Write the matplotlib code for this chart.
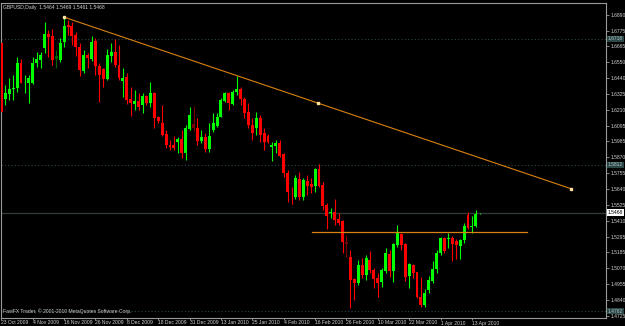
import matplotlib
matplotlib.use("Agg")
import matplotlib.pyplot as plt
import matplotlib.transforms as mtransforms

# GBPUSD daily candles, bar 0 = 23 Oct 2009, last bar = 15 Apr 2010
opens = [1.6689, 1.6284, 1.6322, 1.6358, 1.6363, 1.6543, 1.6399, 1.6403, 1.6403, 1.6543,
         1.6567, 1.6651, 1.6754, 1.6741, 1.6574, 1.6567, 1.6698, 1.6818, 1.6811, 1.6746,
         1.6662, 1.6487, 1.6603, 1.6572, 1.6705, 1.6523, 1.6500, 1.6430, 1.6595, 1.6626,
         1.6531, 1.6416, 1.6442, 1.6284, 1.6250, 1.6272, 1.6243, 1.6308, 1.6255, 1.6332,
         1.6155, 1.6116, 1.6032, 1.5955, 1.5955, 1.5979, 1.5996, 1.5896, 1.6068, 1.6106,
         1.6080, 1.5984, 1.6015, 1.5924, 1.6063, 1.6092, 1.6159, 1.6274, 1.6327, 1.6250,
         1.6334, 1.6358, 1.6284, 1.6195, 1.6099, 1.6078, 1.6149, 1.6041, 1.6020, 1.5940,
         1.5948, 1.5968, 1.5891, 1.5752, 1.5584, 1.5579, 1.5711, 1.5584, 1.5699, 1.5675,
         1.5661, 1.5783, 1.5668, 1.5524, 1.5469, 1.5476, 1.5421, 1.5409, 1.5260, 1.5152,
         1.4990, 1.4961, 1.5093, 1.5021, 1.5129, 1.5057, 1.4997, 1.4973, 1.5052, 1.5172,
         1.5050, 1.5236, 1.5315, 1.5244, 1.5014, 1.5093, 1.5045, 1.4865, 1.4805, 1.4913,
         1.4980, 1.5062, 1.5177, 1.5289, 1.5277, 1.5289, 1.5268, 1.5229, 1.5272, 1.5452,
         1.5366, 1.5373, 1.5464]
highs = [1.6703, 1.6387, 1.6435, 1.6459, 1.6590, 1.6572, 1.6459, 1.6459, 1.6590, 1.6626,
         1.6626, 1.6838, 1.6782, 1.6787, 1.6639, 1.6723, 1.6874, 1.6854, 1.6842, 1.6770,
         1.6687, 1.6639, 1.6615, 1.6739, 1.6723, 1.6543, 1.6507, 1.6644, 1.6691, 1.6715,
         1.6674, 1.6507, 1.6471, 1.6370, 1.6351, 1.6327, 1.6327, 1.6315, 1.6411, 1.6339,
         1.6164, 1.6243, 1.6063, 1.5991, 1.6020, 1.6015, 1.6063, 1.6099, 1.6231, 1.6236,
         1.6147, 1.6063, 1.6044, 1.6111, 1.6188, 1.6188, 1.6296, 1.6339, 1.6339, 1.6351,
         1.6452, 1.6375, 1.6303, 1.6255, 1.6149, 1.6193, 1.6171, 1.6078, 1.6035, 1.5979,
         1.5991, 1.5991, 1.5896, 1.5776, 1.5656, 1.5740, 1.5759, 1.5716, 1.5740, 1.5716,
         1.5792, 1.5819, 1.5692, 1.5536, 1.5500, 1.5565, 1.5464, 1.5416, 1.5308, 1.5200,
         1.4997, 1.5129, 1.5141, 1.5165, 1.5193, 1.5069, 1.5033, 1.5069, 1.5213, 1.5200,
         1.5253, 1.5380, 1.5325, 1.5253, 1.5105, 1.5100, 1.5045, 1.5009, 1.4918, 1.5014,
         1.5124, 1.5200, 1.5296, 1.5296, 1.5320, 1.5301, 1.5277, 1.5277, 1.5392, 1.5476,
         1.5445, 1.5488, 1.5469]
lows = [1.6164, 1.6243, 1.6279, 1.6279, 1.6339, 1.6399, 1.6327, 1.6255, 1.6394, 1.6518,
        1.6507, 1.6615, 1.6590, 1.6531, 1.6507, 1.6554, 1.6662, 1.6746, 1.6674, 1.6598,
        1.6454, 1.6471, 1.6507, 1.6562, 1.6459, 1.6267, 1.6375, 1.6423, 1.6554, 1.6518,
        1.6423, 1.6303, 1.6248, 1.6164, 1.6207, 1.6207, 1.6183, 1.6243, 1.6231, 1.6075,
        1.6111, 1.6020, 1.5932, 1.5919, 1.5919, 1.5896, 1.5860, 1.5848, 1.6063, 1.6051,
        1.5955, 1.5968, 1.5907, 1.5907, 1.6051, 1.6083, 1.6155, 1.6267, 1.6207, 1.6243,
        1.6315, 1.6243, 1.6147, 1.6075, 1.5991, 1.6027, 1.5977, 1.5919, 1.5970, 1.5843,
        1.5896, 1.5867, 1.5723, 1.5548, 1.5531, 1.5565, 1.5560, 1.5560, 1.5596, 1.5608,
        1.5620, 1.5656, 1.5488, 1.5349, 1.5428, 1.5380, 1.5380, 1.5177, 1.5152, 1.4781,
        1.4841, 1.4949, 1.4997, 1.4985, 1.5033, 1.4925, 1.4865, 1.4937, 1.5033, 1.5009,
        1.4973, 1.5220, 1.5200, 1.4980, 1.4925, 1.4997, 1.4853, 1.4793, 1.4793, 1.4889,
        1.4965, 1.5037, 1.5165, 1.5177, 1.5213, 1.5124, 1.5134, 1.5134, 1.5253, 1.5349,
        1.5325, 1.5364, 1.5461]
closes = [1.6193, 1.6332, 1.6358, 1.6367, 1.6543, 1.6403, 1.6403, 1.6435, 1.6547, 1.6574,
          1.6603, 1.6754, 1.6734, 1.6567, 1.6595, 1.6691, 1.6811, 1.6802, 1.6739, 1.6658,
          1.6495, 1.6603, 1.6579, 1.6698, 1.6523, 1.6459, 1.6430, 1.6603, 1.6626, 1.6531,
          1.6435, 1.6439, 1.6279, 1.6255, 1.6274, 1.6231, 1.6308, 1.6260, 1.6332, 1.6147,
          1.6130, 1.6027, 1.5955, 1.5943, 1.5936, 1.5999, 1.5896, 1.6075, 1.6171, 1.6075,
          1.5984, 1.6015, 1.5924, 1.6020, 1.6111, 1.6159, 1.6279, 1.6327, 1.6255, 1.6339,
          1.6358, 1.6284, 1.6188, 1.6099, 1.6041, 1.6149, 1.6027, 1.5977, 1.5979, 1.5956,
          1.5972, 1.5876, 1.5752, 1.5620, 1.5579, 1.5716, 1.5579, 1.5704, 1.5663, 1.5651,
          1.5783, 1.5663, 1.5517, 1.5445, 1.5476, 1.5416, 1.5397, 1.5260, 1.5244, 1.4985,
          1.4961, 1.5093, 1.5021, 1.5145, 1.5057, 1.4990, 1.4965, 1.5057, 1.5181, 1.5050,
          1.5242, 1.5321, 1.5236, 1.5006, 1.5100, 1.5037, 1.4860, 1.4805, 1.4894, 1.4985,
          1.5064, 1.5177, 1.5289, 1.5196, 1.5289, 1.5241, 1.5235, 1.5272, 1.5373, 1.5356,
          1.5373, 1.5459, 1.5468]
dim_bars = [14, 49, 88]

date_bars = [0, 8, 16, 24, 32, 40, 48, 56, 64, 72, 80, 88, 96, 104, 112, 120]
date_labels = ["23 Oct 2009", "4 Nov 2009", "16 Nov 2009", "26 Nov 2009", "8 Dec 2009",
               "18 Dec 2009", "31 Dec 2009", "13 Jan 2010", "25 Jan 2010", "4 Feb 2010",
               "16 Feb 2010", "26 Feb 2010", "10 Mar 2010", "22 Mar 2010", "1 Apr 2010",
               "13 Apr 2010"]
price_ticks = [1.6890, 1.6775, 1.6665, 1.6550, 1.6440, 1.6325, 1.6210, 1.6095, 1.5985,
               1.5870, 1.5755, 1.5640, 1.5525, 1.5410, 1.5295, 1.5185, 1.5070, 1.4955,
               1.4840, 1.4725]
marked_levels = [1.6718, 1.5812, 1.4762]
bid = 1.5468

trend_x = [16, 145.3]
trend_y = [1.6874, 1.5641]
support_x = [79.1, 134.0]
support_y = 1.5328

title = "GBPUSD,Daily  1.5464 1.5469 1.5461 1.5468"
footer = "FastFX Trader, \u00a9 2001-2010 MetaQuotes Software Corp."

bull, bear = "#00ff00", "#ff0000"
bull_dim, bear_dim = "#006400", "#780000"
axis_col = "#9a9a9a"
txt_col = "#d0d0d0"
font = ["Liberation Sans Narrow", "Liberation Sans", "DejaVu Sans"]
fs = 3.6

fig = plt.figure(figsize=(6.25, 3.26), dpi=100, facecolor="black")
ax = fig.add_axes([1 / 625, 8 / 326, 605 / 625, 315 / 326], facecolor="black")
ax.set_xlim(-0.1, 154.2)
ax.set_ylim(1.4712, 1.6976)

# horizontal levels
for lv in marked_levels:
    ax.axhline(lv, color="#2f4646", lw=0.8, ls=(0, (1, 2)), zorder=1)
ax.axhline(bid, color="#333d3d", lw=0.9, zorder=1)

# candles
for i in range(len(opens)):
    o, h, l, c = opens[i], highs[i], lows[i], closes[i]
    up = c >= o
    if i in dim_bars:
        col = bull_dim if up else bear_dim
    else:
        col = bull if up else bear
    ax.vlines(i, l, h, color=col, lw=0.8, zorder=2)
    lo, hi = min(o, c), max(o, c)
    ax.bar(i, max(hi - lo, 0.00025), width=0.75, bottom=lo, color=col,
           linewidth=0, zorder=3)

# trend line and support line
tcol = "#d98210"
ax.plot(trend_x, trend_y, color=tcol, lw=0.8, zorder=4)
mid_x = (trend_x[0] + trend_x[1]) / 2
mid_y = (trend_y[0] + trend_y[1]) / 2
ax.plot([trend_x[0], mid_x, trend_x[1]], [trend_y[0], mid_y, trend_y[1]],
        ls="none", marker="s", ms=1.8, mfc="#ffe0a0", mec="#ffe0a0", zorder=5)
ax.plot(support_x, [support_y, support_y], color=tcol, lw=0.9, zorder=4)

# axes styling
for side in ["left", "top", "right", "bottom"]:
    ax.spines[side].set_color(axis_col)
    ax.spines[side].set_linewidth(0.8)
ax.yaxis.tick_right()
ax.set_yticks(price_ticks)
ax.set_yticklabels([f"{p:.4f}" for p in price_ticks], fontsize=fs, color=txt_col,
                   family=font)
ax.tick_params(axis="y", length=2, width=0.6, color=axis_col, pad=1)
ax.set_xticks(date_bars)
ax.set_xticklabels(date_labels, fontsize=fs, color=txt_col, family=font, ha="left")
ax.tick_params(axis="x", length=1.5, width=0.6, color=axis_col, pad=0.3)

trans = mtransforms.blended_transform_factory(ax.transAxes, ax.transData)
for lv in marked_levels:
    ax.text(1.003, lv, f"{lv:.4f}", transform=trans, fontsize=fs, color="#b0c0c0",
            family=font, va="center", ha="left", clip_on=False,
            bbox=dict(facecolor="#2b4848", edgecolor="none", pad=0.6))
ax.text(1.003, bid, f"{bid:.4f}", transform=trans, fontsize=fs, color="black",
        family=font, va="center", ha="left", clip_on=False,
        bbox=dict(facecolor="white", edgecolor="none", pad=0.6))

ax.text(0.004, 0.993, title, transform=ax.transAxes, fontsize=fs, color=txt_col,
        family=font, va="top", ha="left")
ax.text(0.004, 0.012, footer, transform=ax.transAxes, fontsize=fs, color=txt_col,
        family=font, va="bottom", ha="left")

fig.savefig("out.png", dpi=100, facecolor="black")
